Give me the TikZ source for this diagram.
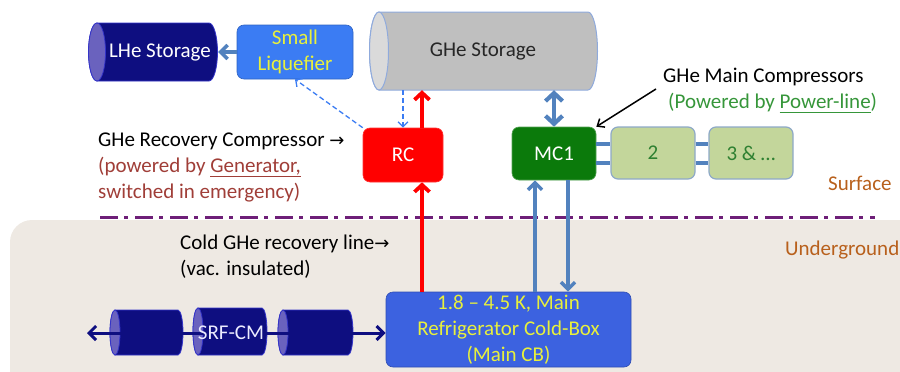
\documentclass[tikz,border=0pt]{standalone}
\usepackage{fontspec}
\setmainfont{Carlito}
\newfontfamily\arrowfont{DejaVu Sans}
\usetikzlibrary{arrows.meta,calc}

\definecolor{navy}{HTML}{0E0E80}
\definecolor{navycap}{HTML}{6A62BE}
\definecolor{navyedge}{HTML}{3434C8}
\definecolor{steel}{HTML}{5282BE}
\definecolor{liqblue}{HTML}{3B7CF3}
\definecolor{cbblue}{HTML}{3C62E0}
\definecolor{boxtext}{HTML}{E8F03C}
\definecolor{gasgray}{HTML}{BFBFBF}
\definecolor{gascap}{HTML}{DADADA}
\definecolor{gasedge}{HTML}{8FAADC}
\definecolor{rcred}{HTML}{FF0000}
\definecolor{mcgreen}{HTML}{0B7A0B}
\definecolor{lightgreen}{HTML}{C3D69B}
\definecolor{lgedge}{HTML}{8EA9C8}
\definecolor{greentext}{HTML}{36963A}
\definecolor{browntext}{HTML}{A03E38}
\definecolor{zonetext}{HTML}{B8601C}
\definecolor{zoneline}{HTML}{6E1F78}
\definecolor{ugbg}{HTML}{EEE9E3}

% underlined word with the rule set just below the baseline
\newcommand\ulword[1]{\underline{\smash{#1}\vphantom{,}}}
% right arrow glyph used inside the labels
\newcommand\rarr{{\arrowfont\fontsize{18}{26}\selectfont →}}

% horizontal cylinder: x1, x2, ytop, ybot, rx, body style, cap style
\newcommand\hcyl[7]{%
  \path[#6] (#1,#3) -- (#2,#3)
    arc[start angle=-90,end angle=90,x radius=#5,y radius={(#4-#3)/2}]
    -- (#1,#4)
    arc[start angle=90,end angle=270,x radius=#5,y radius={(#4-#3)/2}] -- cycle;
  \path[#7] (#1,{(#3+#4)/2}) ellipse[x radius=#5,y radius={(#4-#3)/2}];}

\begin{document}
\begin{tikzpicture}[x=1pt,y=-1pt,
  every node/.style={font=\fontsize{21}{26}\selectfont, inner sep=0pt},
  box/.style={rounded corners=7pt, align=center},
  redarrow/.style={draw=rcred, line width=3.8pt, -{Straight Barb[length=7pt,width=15pt]}},
  steelarrow/.style={draw=steel, line width=3.5pt, -{Straight Barb[length=7pt,width=14pt]}},
  steelbar/.style={draw=steel, line width=4pt},
  dasharrow/.style={draw=liqblue, line width=1.3pt, dash pattern=on 5pt off 3pt, -{Straight Barb[length=5pt,width=10pt]}},
  navyarrow/.style={draw=navy, line width=3pt, {Straight Barb[length=7pt,width=14pt]}-{Straight Barb[length=7pt,width=14pt]}},
  pointer/.style={draw=black, line width=1.5pt, -{Straight Barb[length=6pt,width=10pt]}}]

\useasboundingbox (0,0) rectangle (900,372);

% underground zone
\begin{scope}
  \clip (0,0) rectangle (900,372);
  \fill[ugbg, rounded corners=22pt] (10,400) rectangle (930,220);
\end{scope}

% surface / underground boundary
\draw[zoneline, line width=3pt, dash pattern=on 18pt off 6pt on 4pt off 7pt] (100,217) -- (875,217);
\node[text=zonetext, anchor=west] (surf) at (828,183) {Surface};
\node[text=zonetext, anchor=west] (under) at (785,250) {Underground};

% storage vessels
\hcyl{97}{209}{23}{81}{8.5}{fill=navy, draw=navyedge, line width=0.8pt}{fill=navycap, draw=navyedge, line width=0.8pt}
\node[text=white, minimum width=116pt, minimum height=58pt] (lhe) at (160,52) {LHe Storage};

\hcyl{379}{588}{12}{90}{9.5}{fill=gasgray, draw=gasedge, line width=1pt}{fill=gascap, draw=gasedge, line width=1pt}
\node[text=black!85, minimum width=200pt, minimum height=78pt] (ghe) at (483,51) {GHe Storage};

% boxes
\node[box, fill=liqblue, draw=liqblue!80!black, line width=0.6pt, text=boxtext,
      minimum width=116pt, minimum height=54pt] (liq) at (295,52) {Small\\Liquefier};
\node[box, fill=rcred, draw=rcred!80!white, line width=0.6pt, text=white,
      minimum width=80pt, minimum height=54pt] (rc) at (403,155) {RC};
\node[box, fill=mcgreen, draw=mcgreen!70!white, line width=0.6pt, text=white,
      minimum width=84pt, minimum height=53pt] (mc1) at (554,153.5) {MC1};
\node[box, fill=lightgreen, draw=lgedge, line width=1.2pt, text=greentext!85!black,
      minimum width=84pt, minimum height=52pt] (c2) at (653,153) {2};
\node[box, fill=lightgreen, draw=lgedge, line width=1.2pt, text=greentext!85!black,
      minimum width=84pt, minimum height=52pt] (c3) at (751,153) {3 \& \dots};
\node[box, fill=cbblue, draw=cbblue!80!black, line width=0.6pt, text=boxtext,
      minimum width=245pt, minimum height=75pt] (cb) at (508.5,329.5)
      {1.8 -- 4.5 K, Main\\Refrigerator Cold-Box\\(Main CB)};

% cryomodule string
\coordinate (lineend) at (87,333);
\hcyl{115}{178}{310}{355}{5}{fill=navy, draw=navyedge, line width=0.8pt}{fill=navycap, draw=navyedge, line width=0.8pt}
\hcyl{198}{262}{308}{355}{5}{fill=navy, draw=navyedge, line width=0.8pt}{fill=navycap, draw=navyedge, line width=0.8pt}
\hcyl{283}{348}{310}{355}{5}{fill=navy, draw=navyedge, line width=0.8pt}{fill=navycap, draw=navyedge, line width=0.8pt}
\draw[navyarrow] (lineend) -- (lineend -| cb.west);
\node[text=white!92!blue] (srf) at (231,333) {SRF-CM};

% connectors
\draw[steelarrow] (liq.west) -- (liq.west -| lhe.east);
\draw[dasharrow] (rc.north west) -- (liq.south);
\draw[dasharrow] (ghe.south -| rc.north) -- (rc.north);
\coordinate (rcx) at ($(rc.north)+(19,0)$);
\draw[redarrow] (rcx) -- (rcx |- ghe.south);
\draw[redarrow] (rcx |- cb.north) -- (rcx |- rc.south);
\draw[steel, line width=4.2pt, {Straight Barb[length=8pt,width=17pt]}-{Straight Barb[length=8pt,width=17pt]}]
  (ghe.south -| mc1.north) -- (mc1.north);
\coordinate (mcup) at ($(mc1.south)+(-19,0)$);
\coordinate (mcdown) at ($(mc1.south)+(14,0)$);
\draw[steelarrow] (mcup |- cb.north) -- (mcup);
\draw[steelarrow] (mcdown) -- (mcdown |- cb.north);
\foreach \dy in {-10,9} {
  \draw[steelbar] ($(mc1.east)+(0,\dy)$) -- ($(c2.west)+(0,\dy+0.5)$);
  \draw[steelbar] ($(c2.east)+(0,\dy+0.5)$) -- ($(c3.west)+(0,\dy+0.5)$);
}

% labels
\node[anchor=west, align=left] (reclab) at (98,167.5)
  {GHe Recovery Compressor \rarr\\
   \textcolor{browntext}{(powered by \ulword{Generator,}}\\
   \textcolor{browntext}{switched in emergency)}};
\node[anchor=west, align=left] (coldlab) at (180,256.5)
  {Cold GHe recovery line\rarr\\(vac. insulated)};
\node[anchor=west] (mainlab) at (663,77) {GHe Main Compressors};
\node[anchor=west, text=greentext] (powlab) at (668,103) {(Powered by \ulword{Power-line})};
\coordinate (ptail) at (656,89);
\draw[pointer] (ptail) -- (mc1.north east);

\end{tikzpicture}
\end{document}
